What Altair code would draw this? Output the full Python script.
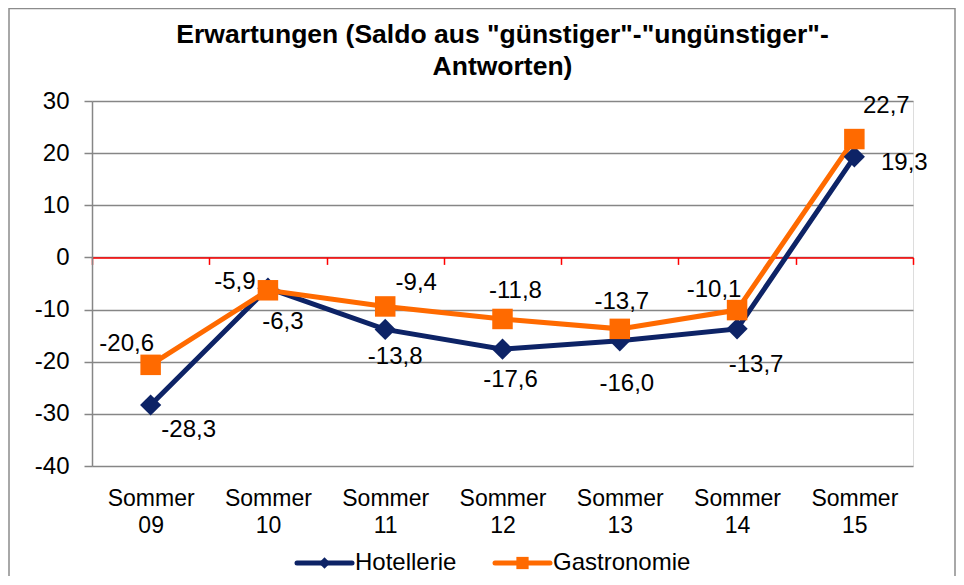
import altair as alt
import pandas as pd

# ---------------- data ----------------
categories = ["Sommer 09", "Sommer 10", "Sommer 11", "Sommer 12",
              "Sommer 13", "Sommer 14", "Sommer 15"]
hotellerie = [-28.3, -5.9, -13.8, -17.6, -16.0, -13.7, 19.3]
gastronomie = [-20.6, -6.3, -9.4, -11.8, -13.7, -10.1, 22.7]
series_names = ["Hotellerie", "Gastronomie"]
y_ticks = [-40, -30, -20, -10, 0, 10, 20, 30]
title_lines = ['Erwartungen (Saldo aus "günstiger"-"ungünstiger"-', 'Antworten)']

# ---------------- style ----------------
FONT = "Liberation Sans"
COLORS = {"Hotellerie": "#0d2366", "Gastronomie": "#ff6a00"}
SHAPES = {"Hotellerie": "diamond", "Gastronomie": "square"}
SIZES = {"Hotellerie": 450, "Gastronomie": 420}
LEG_SIZES = {"Hotellerie": 130, "Gastronomie": 150}
# per-label pixel offsets (dx, dy) of the value labels
LABEL_OFFSETS = {
    "Hotellerie": [(38, 25), (-33, -6), (10, 28), (8, 31), (7, 43), (19, 36), (50, 6)],
    "Gastronomie": [(-24, -21), (15, 32), (31, -23), (13, -28), (2, -27), (-23, -20), (32, -33)],
}
LEGEND_X = {"Hotellerie": 205, "Gastronomie": 403}
W, H = 821, 365

rows = []
for name, vals in zip(series_names, [hotellerie, gastronomie]):
    for c, v in zip(categories, vals):
        rows.append({"category": c, "series": name, "value": v,
                     "label": f"{v:.1f}".replace(".", ",")})
df = pd.DataFrame(rows)

x_scale = alt.Scale(domain=categories, type="band", paddingInner=0, paddingOuter=0)
y_scale = alt.Scale(domain=[-40, 30], nice=False, zero=False)

x_axis = alt.Axis(
    title=None, orient="bottom", offset=-208.6,
    domainColor="#ff0000", domainWidth=1.5,
    ticks=True, tickBand="extent", tickColor="#ff0000", tickSize=7, tickWidth=1.5,
    labelExpr="split(datum.label, ' ')", labelAngle=0,
    labelFont=FONT, labelFontSize=23, labelColor="#000000",
    labelPadding=223, labelLineHeight=27, labelBaseline="top",
    grid=False,
)
y_axis = alt.Axis(
    title=None, values=y_ticks, labelExpr="toString(datum.value)",
    domainColor="#868686", domainWidth=1.5,
    tickColor="#868686", tickSize=8, tickWidth=1.5,
    labelFont=FONT, labelFontSize=24, labelColor="#000000", labelPadding=15,
    grid=True, gridColor="#868686", gridWidth=1.5,
)

base = alt.Chart(df)


def X(axis=None):
    if axis is None:
        return alt.X("category:N", scale=x_scale, bandPosition=0.5, title=None)
    return alt.X("category:N", scale=x_scale, bandPosition=0.5, axis=axis)


def Y(axis=None):
    if axis is None:
        return alt.Y("value:Q", scale=y_scale, title=None)
    return alt.Y("value:Q", scale=y_scale, axis=axis)


layers = []

# frame around the whole chart
frame = alt.Chart(pd.DataFrame({"k": [0]})).mark_rect(
    fill="#ffffff", fillOpacity=0, stroke="#8c8c8c", strokeWidth=1.5
).encode(x=alt.value(-83), x2=alt.value(863), y=alt.value(-92.5), y2=alt.value(520))
layers.append(frame)

first = True
for name in series_names:
    sub = base.transform_filter(alt.datum.series == name)
    line = sub.mark_line(strokeWidth=5, color=COLORS[name]).encode(
        x=X(x_axis) if first else X(), y=Y(y_axis) if first else Y(),
        order=alt.Order("category:N"),
    )
    first = False
    layers.append(line)

for name in series_names:
    sub = base.transform_filter(alt.datum.series == name)
    pts = sub.mark_point(filled=True, opacity=1, shape=SHAPES[name],
                         size=SIZES[name], color=COLORS[name]).encode(x=X(), y=Y())
    layers.append(pts)

# value labels
for name in series_names:
    for i, c in enumerate(categories):
        dx, dy = LABEL_OFFSETS[name][i]
        t = base.transform_filter(
            (alt.datum.series == name) & (alt.datum.category == c)
        ).mark_text(font=FONT, fontSize=24, color="#000000", align="center",
                    baseline="middle", dx=dx, dy=dy).encode(
            x=X(), y=Y(), text="label:N")
        layers.append(t)

# legend
for name in series_names:
    ldf = pd.DataFrame({"series": [name]})
    x0 = LEGEND_X[name]
    leg_line = alt.Chart(ldf).mark_rule(color=COLORS[name], strokeWidth=5,
                                        strokeCap="round").encode(
        x=alt.value(x0), x2=alt.value(x0 + 55), y=alt.value(462))
    leg_pt = alt.Chart(ldf).mark_point(filled=True, opacity=1, shape=SHAPES[name],
                                       size=LEG_SIZES[name], color=COLORS[name]).encode(
        x=alt.value(x0 + 27.5), y=alt.value(462))
    leg_txt = alt.Chart(ldf).mark_text(font=FONT, fontSize=24, color="#000000",
                                       align="left", baseline="middle").encode(
        x=alt.value(x0 + 58), y=alt.value(462), text="series:N")
    layers += [leg_line, leg_pt, leg_txt]

chart = alt.layer(*layers).properties(
    width=W, height=H,
    title=alt.TitleParams(text=title_lines, font=FONT, fontSize=26.5, fontWeight="bold",
                          color="#000000", anchor="middle", frame="group",
                          lineHeight=32, offset=20, dy=93),
    autosize=alt.AutoSizeParams(type="none"),
    padding={"left": 84, "top": 93, "right": 43, "bottom": 110},
).configure_view(stroke=None).configure(background="#ffffff")

chart.save("out.html", embed_options={"renderer": "svg", "actions": False})
